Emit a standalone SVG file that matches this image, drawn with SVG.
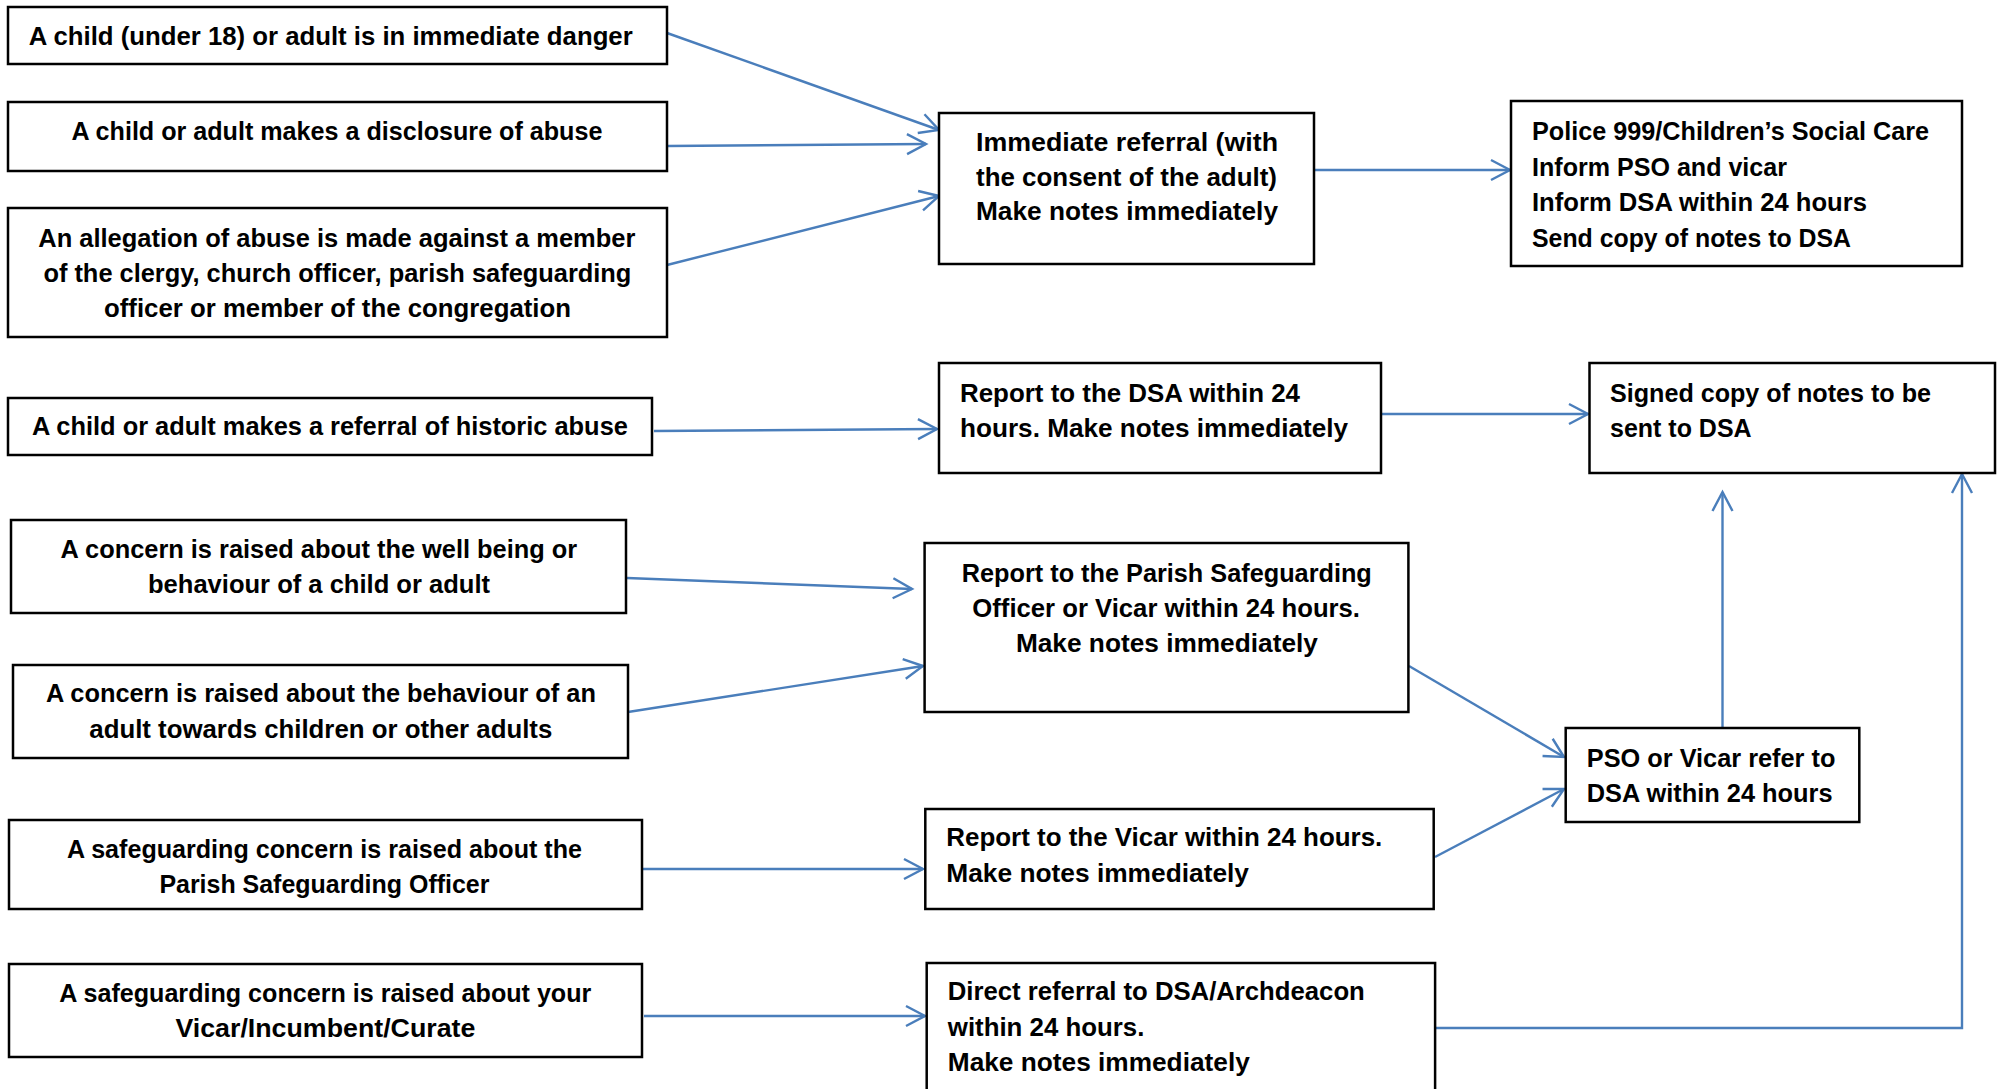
<svg xmlns="http://www.w3.org/2000/svg" width="2001" height="1089" viewBox="0 0 2001 1089">
<style>
.box{fill:#fff;stroke:#000;stroke-width:2.5}
.t{font-family:"Liberation Sans",Arial,sans-serif;font-weight:bold;font-size:25px;fill:#000}
.c{stroke:#4a7ebb;stroke-width:2.4;fill:none;marker-end:url(#ah)}
</style>
<defs>
<marker id="ah" markerUnits="userSpaceOnUse" markerWidth="26" markerHeight="26" viewBox="-23 -13 26 26" refX="0" refY="0" orient="auto" overflow="visible">
<path d="M-19,-10 L0,0 L-19,10" fill="none" stroke="#4a7ebb" stroke-width="2.4"/>
</marker>
</defs>
<rect width="2001" height="1089" fill="#fff"/>
<g id="connectors">
<line class="c" x1="667" y1="33" x2="939" y2="130"/>
<line class="c" x1="667" y1="146" x2="926" y2="144"/>
<line class="c" x1="667" y1="265" x2="939" y2="196"/>
<line class="c" x1="1314" y1="170" x2="1510" y2="170"/>
<line class="c" x1="654" y1="431" x2="937" y2="429"/>
<line class="c" x1="1381" y1="414" x2="1588" y2="414"/>
<line class="c" x1="627" y1="578" x2="912" y2="589"/>
<line class="c" x1="628" y1="712" x2="923" y2="666"/>
<line class="c" x1="1409" y1="666" x2="1564" y2="757"/>
<line class="c" x1="1435" y1="857" x2="1564" y2="789"/>
<line class="c" x1="1722.5" y1="728" x2="1722.5" y2="492"/>
<line class="c" x1="642" y1="869" x2="923" y2="869"/>
<line class="c" x1="644" y1="1016" x2="925" y2="1016"/>
<polyline class="c" points="1435,1028 1962,1028 1962,474"/>
</g>
<g id="n1"><rect class="box" x="8" y="7" width="659" height="57"/>
<text class="t" x="28.7" y="44.5" textLength="604" lengthAdjust="spacingAndGlyphs">A child (under 18) or adult is in immediate danger</text></g>
<g id="n2"><rect class="box" x="8" y="102" width="659" height="69"/>
<text class="t" x="71.4" y="140" textLength="531" lengthAdjust="spacingAndGlyphs">A child or adult makes a disclosure of abuse</text></g>
<g id="n3"><rect class="box" x="8" y="208" width="659" height="129"/>
<text class="t" x="38.3" y="246.7" textLength="597" lengthAdjust="spacingAndGlyphs">An allegation of abuse is made against a member</text>
<text class="t" x="43.4" y="281.7" textLength="588" lengthAdjust="spacingAndGlyphs">of the clergy, church officer, parish safeguarding</text>
<text class="t" x="104" y="316.7" textLength="467" lengthAdjust="spacingAndGlyphs">officer or member of the congregation</text></g>
<g id="n4"><rect class="box" x="939" y="113" width="375" height="151"/>
<text class="t" x="976" y="151" textLength="302" lengthAdjust="spacingAndGlyphs">Immediate referral (with</text>
<text class="t" x="976" y="185.5" textLength="301" lengthAdjust="spacingAndGlyphs">the consent of the adult)</text>
<text class="t" x="976" y="220" textLength="302" lengthAdjust="spacingAndGlyphs">Make notes immediately</text></g>
<g id="n5"><rect class="box" x="1511" y="101" width="451" height="165"/>
<text class="t" x="1532" y="140" textLength="397" lengthAdjust="spacingAndGlyphs">Police 999/Children’s Social Care</text>
<text class="t" x="1532" y="175.5" textLength="255" lengthAdjust="spacingAndGlyphs">Inform PSO and vicar</text>
<text class="t" x="1532" y="211" textLength="335" lengthAdjust="spacingAndGlyphs">Inform DSA within 24 hours</text>
<text class="t" x="1532" y="246.5" textLength="319" lengthAdjust="spacingAndGlyphs">Send copy of notes to DSA</text></g>
<g id="n6"><rect class="box" x="8" y="398" width="644" height="57"/>
<text class="t" x="31.9" y="435" textLength="596" lengthAdjust="spacingAndGlyphs">A child or adult makes a referral of historic abuse</text></g>
<g id="n7"><rect class="box" x="939" y="363" width="442" height="110"/>
<text class="t" x="960" y="401.7" textLength="340" lengthAdjust="spacingAndGlyphs">Report to the DSA within 24</text>
<text class="t" x="960" y="436.7" textLength="388" lengthAdjust="spacingAndGlyphs">hours. Make notes immediately</text></g>
<g id="n8"><rect class="box" x="1589.5" y="363" width="405.5" height="110"/>
<text class="t" x="1610" y="401.7" textLength="321" lengthAdjust="spacingAndGlyphs">Signed copy of notes to be</text>
<text class="t" x="1610" y="436.7" textLength="141.6" lengthAdjust="spacingAndGlyphs">sent to DSA</text></g>
<g id="n9"><rect class="box" x="11" y="520" width="615" height="93"/>
<text class="t" x="60.6" y="558.3" textLength="516.6" lengthAdjust="spacingAndGlyphs">A concern is raised about the well being or</text>
<text class="t" x="148" y="593.3" textLength="342" lengthAdjust="spacingAndGlyphs">behaviour of a child or adult</text></g>
<g id="n10"><rect class="box" x="13" y="665" width="615" height="93"/>
<text class="t" x="45.9" y="701.7" textLength="550" lengthAdjust="spacingAndGlyphs">A concern is raised about the behaviour of an</text>
<text class="t" x="89.3" y="737.7" textLength="463" lengthAdjust="spacingAndGlyphs">adult towards children or other adults</text></g>
<g id="n11"><rect class="box" x="924.6" y="543" width="483.8" height="169"/>
<text class="t" x="961.8" y="581.7" textLength="410" lengthAdjust="spacingAndGlyphs">Report to the Parish Safeguarding</text>
<text class="t" x="972.3" y="616.7" textLength="387.7" lengthAdjust="spacingAndGlyphs">Officer or Vicar within 24 hours.</text>
<text class="t" x="1015.9" y="652" textLength="302" lengthAdjust="spacingAndGlyphs">Make notes immediately</text></g>
<g id="n12"><rect class="box" x="1565.7" y="728" width="293.6" height="94"/>
<text class="t" x="1586.8" y="766.6" textLength="248.6" lengthAdjust="spacingAndGlyphs">PSO or Vicar refer to</text>
<text class="t" x="1586.8" y="801.6" textLength="245.8" lengthAdjust="spacingAndGlyphs">DSA within 24 hours</text></g>
<g id="n13"><rect class="box" x="9" y="820" width="633" height="89"/>
<text class="t" x="67" y="858.3" textLength="515" lengthAdjust="spacingAndGlyphs">A safeguarding concern is raised about the</text>
<text class="t" x="159.4" y="893.3" textLength="330" lengthAdjust="spacingAndGlyphs">Parish Safeguarding Officer</text></g>
<g id="n14"><rect class="box" x="925.3" y="809" width="508.4" height="100"/>
<text class="t" x="946.3" y="846.2" textLength="436" lengthAdjust="spacingAndGlyphs">Report to the Vicar within 24 hours.</text>
<text class="t" x="946.3" y="882" textLength="302.7" lengthAdjust="spacingAndGlyphs">Make notes immediately</text></g>
<g id="n15"><rect class="box" x="9" y="964" width="633" height="93"/>
<text class="t" x="59.3" y="1001.7" textLength="532" lengthAdjust="spacingAndGlyphs">A safeguarding concern is raised about your</text>
<text class="t" x="175.4" y="1037.3" textLength="300" lengthAdjust="spacingAndGlyphs">Vicar/Incumbent/Curate</text></g>
<g id="n16"><rect class="box" x="926.7" y="963" width="508.4" height="140"/>
<text class="t" x="947.8" y="1000.4" textLength="417" lengthAdjust="spacingAndGlyphs">Direct referral to DSA/Archdeacon</text>
<text class="t" x="947.8" y="1036" textLength="196.6" lengthAdjust="spacingAndGlyphs">within 24 hours.</text>
<text class="t" x="947.8" y="1071" textLength="302" lengthAdjust="spacingAndGlyphs">Make notes immediately</text></g>
</svg>
